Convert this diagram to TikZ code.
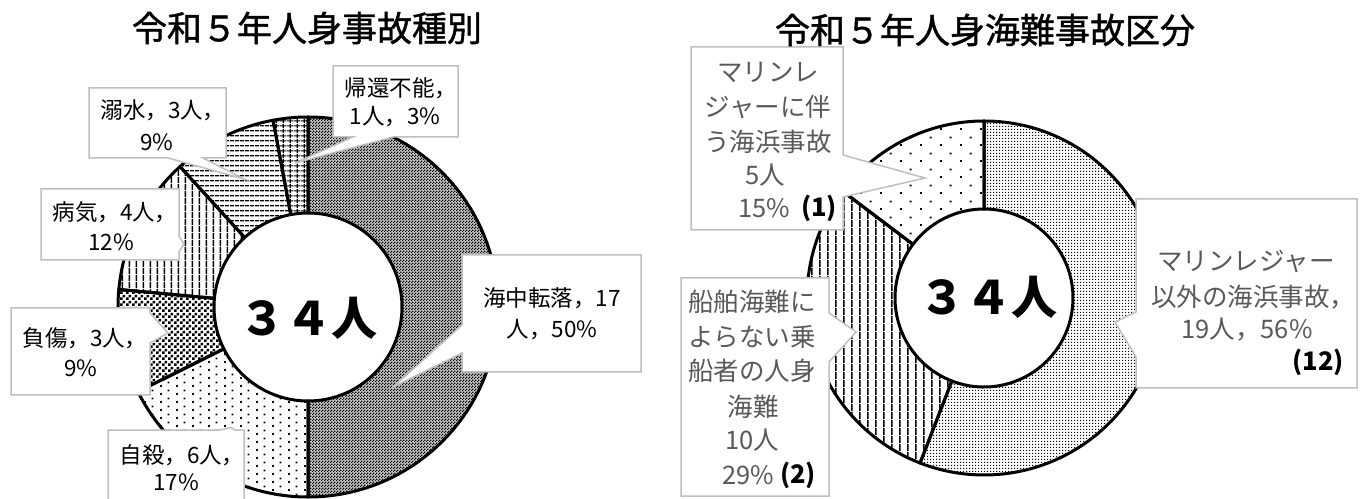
\documentclass[tikz,border=0pt]{standalone}
\usepackage{fontspec}
\setmainfont{Noto Sans CJK JP}
\newfontfamily\titlefont[FakeBold=1.2]{Noto Sans CJK JP}
\usetikzlibrary{patterns.meta}
\definecolor{boxgray}{HTML}{BFBFBF}
\definecolor{txtgray}{HTML}{595959}

% fine checker (left: 海中転落)
\tikzdeclarepattern{name=pcheckfine, type=uncolored,
  bottom left={(0pt,0pt)}, top right={(3pt,3pt)}, tile size={(3pt,3pt)},
  code={\fill (0pt,0pt) rectangle (1.5pt,1.5pt); \fill (1.5pt,1.5pt) rectangle (3pt,3pt);}}
% coarse checker (負傷)
\tikzdeclarepattern{name=pcheckbig, type=uncolored,
  bottom left={(0pt,0pt)}, top right={(6pt,6pt)}, tile size={(6pt,6pt)},
  code={\fill (0pt,0pt) rectangle (3pt,3pt); \fill (3pt,3pt) rectangle (6pt,6pt);}}
% sparse dots (自殺)
\tikzdeclarepattern{name=pdotsA, type=uncolored,
  bottom left={(0pt,0pt)}, top right={(16pt,8pt)}, tile size={(16pt,8pt)},
  code={\fill (0pt,0pt) rectangle (2pt,2pt); \fill (8pt,4pt) rectangle (10pt,6pt);}}
% very sparse dots (right 15%)
\tikzdeclarepattern{name=pdotsB, type=uncolored,
  bottom left={(0pt,0pt)}, top right={(20pt,16pt)}, tile size={(20pt,16pt)},
  code={\fill (0pt,0pt) rectangle (2pt,2pt); \fill (10pt,8pt) rectangle (12pt,10pt);}}
% dense dots (right 56%)
\tikzdeclarepattern{name=pdotsC, type=uncolored,
  bottom left={(0pt,0pt)}, top right={(3pt,3pt)}, tile size={(3pt,3pt)},
  code={\fill (0pt,0pt) rectangle (1.6pt,1.6pt);}}
% vertical lines
\tikzdeclarepattern{name=pvlinesA, type=uncolored,
  bottom left={(0pt,0pt)}, top right={(7pt,7pt)}, tile size={(7pt,7pt)},
  code={\fill (3pt,0pt) rectangle (4.6pt,7pt);}}
\tikzdeclarepattern{name=pvlinesB, type=uncolored,
  bottom left={(0pt,0pt)}, top right={(8pt,8pt)}, tile size={(8pt,8pt)},
  code={\fill (3.5pt,0pt) rectangle (5.1pt,8pt);}}
% horizontal lines (溺水)
\tikzdeclarepattern{name=phlines, type=uncolored,
  bottom left={(0pt,0pt)}, top right={(5pt,5pt)}, tile size={(5pt,5pt)},
  code={\fill (0pt,1.8pt) rectangle (5pt,3.4pt);}}
% grid (帰還不能)
\tikzdeclarepattern{name=pgrid, type=uncolored,
  bottom left={(0pt,0pt)}, top right={(7pt,5pt)}, tile size={(7pt,5pt)},
  code={\fill (3pt,0pt) rectangle (4.4pt,5pt); \fill (0pt,1.8pt) rectangle (7pt,3.2pt);}}

\newcommand{\dseg}[6]{\path[#1,shift={#2}] (#5:#3) -- (#5:#4) arc[start angle=#5,end angle=#6,radius=#4] -- (#6:#3) arc[start angle=#6,end angle=#5,radius=#3] -- cycle;}

\tikzset{
  callout/.style={fill=white, draw=boxgray, line width=1.5pt, line join=miter},
  segline/.style={draw=black, line width=3pt, line join=round},
  lbl/.style={inner sep=0pt, font=\fontsize{22.5pt}{30pt}\selectfont},
  rlbl/.style={inner sep=0pt, text=txtgray, font=\fontsize{25.5pt}{34pt}\selectfont},
  rnum/.style={inner sep=0pt, text=black, font=\fontsize{25.5pt}{34pt}\selectfont\bfseries},
  ttl/.style={inner sep=0pt, font=\titlefont\fontsize{35pt}{40pt}\selectfont},
  ctr/.style={inner sep=0pt, font=\fontsize{46pt}{50pt}\selectfont\bfseries}
}

\begin{document}
\begin{tikzpicture}[x=1pt,y=1pt]
\useasboundingbox (0,0) rectangle (1362,498);
\fill[white] (0,0) rectangle (1362,498);

% ---------- left donut ----------
\def\LC{(308,191)}
\dseg{fill=black!22}{\LC}{94pt}{190pt}{90}{-90}
\dseg{pattern=pcheckfine}{\LC}{94pt}{190pt}{90}{-90}
\dseg{fill=white}{\LC}{94pt}{190pt}{270}{206.471}
\dseg{pattern=pdotsA}{\LC}{94pt}{190pt}{270}{206.471}
\dseg{fill=white}{\LC}{94pt}{190pt}{206.471}{174.706}
\dseg{pattern=pcheckbig}{\LC}{94pt}{190pt}{206.471}{174.706}
\dseg{fill=white}{\LC}{94pt}{190pt}{174.706}{132.353}
\dseg{pattern=pvlinesA}{\LC}{94pt}{190pt}{174.706}{132.353}
\dseg{fill=white}{\LC}{94pt}{190pt}{132.353}{100.588}
\dseg{pattern=phlines}{\LC}{94pt}{190pt}{132.353}{100.588}
\dseg{fill=white}{\LC}{94pt}{190pt}{100.588}{90}
\dseg{pattern=pgrid}{\LC}{94pt}{190pt}{100.588}{90}
\dseg{segline}{\LC}{94pt}{190pt}{90}{-90}
\dseg{segline}{\LC}{94pt}{190pt}{270}{206.471}
\dseg{segline}{\LC}{94pt}{190pt}{206.471}{174.706}
\dseg{segline}{\LC}{94pt}{190pt}{174.706}{132.353}
\dseg{segline}{\LC}{94pt}{190pt}{132.353}{100.588}
\dseg{segline}{\LC}{94pt}{190pt}{100.588}{90}

% ---------- right donut ----------
\def\RC{(984,200)}
\dseg{fill=white}{\RC}{89pt}{177pt}{90}{-111.176}
\dseg{pattern=pdotsC}{\RC}{89pt}{177pt}{90}{-111.176}
\dseg{fill=white}{\RC}{89pt}{177pt}{248.824}{142.941}
\dseg{pattern=pvlinesB}{\RC}{89pt}{177pt}{248.824}{142.941}
\dseg{fill=white}{\RC}{89pt}{177pt}{142.941}{90}
\dseg{pattern=pdotsB}{\RC}{89pt}{177pt}{142.941}{90}
\dseg{segline}{\RC}{89pt}{177pt}{90}{-111.176}
\dseg{segline}{\RC}{89pt}{177pt}{248.824}{142.941}
\dseg{segline}{\RC}{89pt}{177pt}{142.941}{90}

% ---------- callouts (left) ----------
\path[callout] (333,432) -- (458,432) -- (458,361) -- (393,361) -- (295,335) -- (353,361) -- (333,361) -- cycle;
\path[callout] (89,410) -- (226,410) -- (226,340) -- (203,340) -- (244,319) -- (168,340) -- (89,340) -- cycle;
\path[callout] (41,309) -- (179,309) -- (179,262) -- (184,254) -- (179,246) -- (179,238) -- (41,238) -- cycle;
\path[callout] (11,190) -- (150,190) -- (150,185) -- (168,165) -- (150,155) -- (150,103) -- (11,103) -- cycle;
\path[callout] (108,68) -- (220,68) -- (231,70.5) -- (235,68) -- (244,68) -- (244,-5) -- (108,-5) -- cycle;
\path[callout] (462,243) -- (641,243) -- (641,126) -- (462,126) -- (462,145) -- (393,111) -- (462,173) -- cycle;

% ---------- callouts (right) ----------
\path[callout] (691,451) -- (843,451) -- (843,343) -- (925,320) -- (843,301) -- (843,268) -- (691,268) -- cycle;
\path[callout] (681,220) -- (829,220) -- (829,185) -- (856,166) -- (829,136) -- (829,2) -- (681,2) -- cycle;
\path[callout] (1136,299) -- (1357,299) -- (1357,110) -- (1136,110) -- (1136,141) -- (1115,176) -- (1136,186) -- cycle;

% ---------- titles ----------
\node[ttl] (t1) at (307,470) {令和５年人身事故種別};
\node[ttl] (t2) at (985,468) {令和５年人身海難事故区分};

% ---------- centre totals ----------
\node[ctr] (c1) at (308,180) {３４人};
\node[ctr] (c2) at (988,201) {３４人};

% ---------- left labels ----------
\node[lbl] (a1) at (401,410) {帰還不能，};
\node[lbl] (a2) at (395,381) {1人，3\%};
\node[lbl] (b1) at (163,388) {溺水，3人，};
\node[lbl] (b2) at (157,356) {9\%};
\node[lbl] (p1) at (115,286) {病気，4人，};
\node[lbl] (p2) at (111,256) {12\%};
\node[lbl] (f1) at (85,160) {負傷，3人，};
\node[lbl] (f2) at (81,130) {9\%};
\node[lbl] (s1) at (182,43) {自殺，6人，};
\node[lbl] (s2) at (176,16) {17\%};
\node[lbl] (k1) at (552,200) {海中転落，17};
\node[lbl] (k2) at (552,168) {人，50\%};

% ---------- right labels ----------
\node[rlbl] (g1) at (768,426) {マリンレ};
\node[rlbl] (g2) at (768,391) {ジャーに伴};
\node[rlbl] (g3) at (768,356) {う海浜事故};
\node[rlbl] (g4) at (765,323) {5人};
\node[rlbl] (g5) at (764,290) {15\%};
\node[rnum] (g6) at (819,290) {(1)};
\node[rlbl] (h1) at (752,196) {船舶海難に};
\node[rlbl] (h2) at (752,161) {よらない乗};
\node[rlbl] (h3) at (752,127) {船者の人身};
\node[rlbl] (h4) at (753,91) {海難};
\node[rlbl] (h5) at (752,58) {10人};
\node[rlbl] (h6) at (748,23) {29\%};
\node[rnum] (h7) at (798,23) {(2)};
\node[rlbl] (i1) at (1246,236) {マリンレジャー};
\node[rlbl] (i2) at (1253,201) {以外の海浜事故，};
\node[rlbl] (i3) at (1247,168) {19人，56\%};
\node[rnum] (i4) at (1318,136) {(12)};
\end{tikzpicture}
\end{document}
